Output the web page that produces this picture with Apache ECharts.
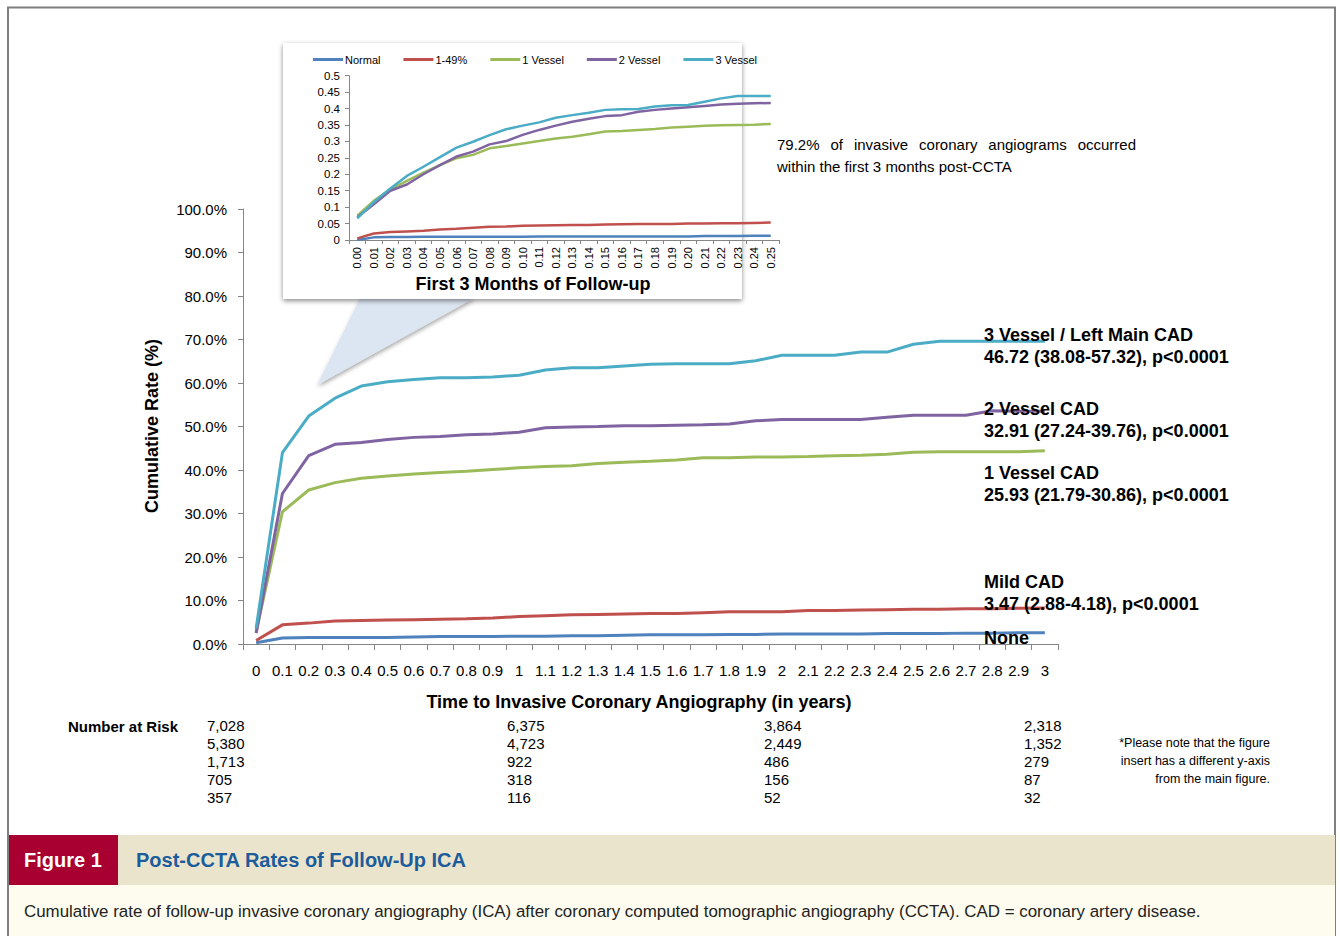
<!DOCTYPE html>
<html>
<head>
<meta charset="utf-8">
<title>Post-CCTA Rates of Follow-Up ICA</title>
<script src="https://cdn.jsdelivr.net/npm/echarts@6/dist/echarts.min.js"></script>
<style>
  html, body { margin: 0; padding: 0; background: #ffffff; }
  #chart { width: 1340px; height: 936px; }
</style>
</head>
<body>
<div id="chart"></div>
<script>
// ---- Main chart: follow-up time in years and cumulative rate (%) ----
const years = ['0','0.1','0.2','0.3','0.4','0.5','0.6','0.7','0.8','0.9','1','1.1','1.2','1.3','1.4','1.5',
               '1.6','1.7','1.8','1.9','2','2.1','2.2','2.3','2.4','2.5','2.6','2.7','2.8','2.9','3'];
const rateNone    = [0.3,1.4,1.5,1.5,1.5,1.5,1.6,1.7,1.7,1.7,1.8,1.8,1.9,1.9,2.0,2.1,2.1,2.1,2.2,2.2,2.3,2.3,2.3,2.3,2.4,2.4,2.4,2.5,2.5,2.6,2.6];
const rateMild    = [0.8,4.4,4.8,5.3,5.4,5.5,5.6,5.7,5.8,6.0,6.3,6.5,6.7,6.8,6.9,7.0,7.0,7.2,7.4,7.4,7.4,7.7,7.7,7.8,7.9,8.0,8.0,8.1,8.1,8.2,8.3];
const rateOneVes  = [2.8,30.4,35.4,37.1,38.1,38.6,39.1,39.4,39.7,40.1,40.5,40.8,41.0,41.5,41.8,42.0,42.3,42.8,42.8,43.0,43.0,43.1,43.3,43.4,43.6,44.1,44.2,44.2,44.2,44.2,44.4];
const rateTwoVes  = [2.5,34.6,43.3,45.9,46.3,47.0,47.5,47.7,48.1,48.3,48.7,49.7,49.9,50.0,50.2,50.2,50.3,50.4,50.6,51.3,51.6,51.6,51.6,51.6,52.1,52.6,52.6,52.6,53.6,53.5,53.5];
const rateThreeVes= [3.6,44.0,52.4,56.5,59.3,60.3,60.8,61.2,61.2,61.4,61.8,63.0,63.5,63.5,63.9,64.3,64.4,64.4,64.4,65.1,66.4,66.4,66.4,67.1,67.1,68.9,69.6,69.6,69.6,69.6,69.6];

// ---- Insert: first 3 months (proportion) ----
const months = ['0.00','0.01','0.02','0.03','0.04','0.05','0.06','0.07','0.08','0.09','0.10','0.11','0.12',
                '0.13','0.14','0.15','0.16','0.17','0.18','0.19','0.20','0.21','0.22','0.23','0.24','0.25'];
const earlyNormal = [0.000,0.008,0.009,0.009,0.010,0.010,0.010,0.010,0.010,0.010,0.010,0.011,0.011,0.011,0.011,0.011,0.011,0.011,0.011,0.011,0.011,0.012,0.012,0.012,0.013,0.013];
const earlyMild   = [0.005,0.020,0.024,0.026,0.028,0.032,0.034,0.037,0.040,0.041,0.043,0.044,0.045,0.046,0.046,0.047,0.048,0.049,0.049,0.049,0.050,0.050,0.051,0.051,0.052,0.053];
const earlyOne    = [0.074,0.119,0.154,0.180,0.205,0.228,0.249,0.259,0.279,0.286,0.294,0.301,0.309,0.314,0.322,0.330,0.332,0.335,0.338,0.342,0.345,0.348,0.349,0.350,0.351,0.353];
const earlyTwo    = [0.069,0.109,0.150,0.169,0.200,0.228,0.254,0.269,0.291,0.301,0.320,0.335,0.348,0.360,0.369,0.377,0.380,0.390,0.396,0.400,0.404,0.408,0.412,0.415,0.416,0.417];
const earlyThree  = [0.066,0.115,0.157,0.195,0.223,0.252,0.281,0.299,0.319,0.337,0.348,0.358,0.372,0.380,0.387,0.396,0.398,0.399,0.406,0.410,0.411,0.421,0.431,0.438,0.438,0.438];
const insetNames  = ['Normal','1-49%','1 Vessel','2 Vessel','3 Vessel'];

// ---- Number at risk table ----
const riskCol0 = ['7,028','5,380','1,713','705','357'];
const riskCol1 = ['6,375','4,723','922','318','116'];
const riskCol2 = ['3,864','2,449','486','156','52'];
const riskCol3 = ['2,318','1,352','279','87','32'];

// ---- Curve annotations (hazard ratios) ----
const annoLines = [
  ['3 Vessel / Left Main CAD', '46.72 (38.08-57.32), p<0.0001'],
  ['2 Vessel CAD', '32.91 (27.24-39.76), p<0.0001'],
  ['1 Vessel CAD', '25.93 (21.79-30.86), p<0.0001'],
  ['Mild CAD', '3.47 (2.88-4.18), p<0.0001'],
  ['None']
];
const noteLines = ['*Please note that the figure', 'insert has a different y-axis', 'from the main figure.'];
const insetNoteWords = ['79.2%','of','invasive','coronary','angiograms','occurred'];
const insetNote2 = 'within the first 3 months post-CCTA';

const colors = ['#4F81BD', '#C0504D', '#9BBB59', '#8064A2', '#4BACC6'];
const FONT = '"Liberation Sans", Arial, Helvetica, sans-serif';
const AXIS_GRAY = '#868686';

const chart = echarts.init(document.getElementById('chart'), null, { renderer: 'svg' });

function txt(text, x, y, size, opts) {
  opts = opts || {};
  return {
    type: 'text', z: opts.z != null ? opts.z : 50,
    rotation: opts.rotation || 0,
    x: x, y: y,
    style: {
      text: text,
      x: 0, y: 0,
      fill: opts.fill || '#000',
      font: (opts.bold ? 'bold ' : '') + size + 'px ' + FONT,
      align: opts.align || 'left',
      verticalAlign: 'middle'
    }
  };
}

// justified first line of the insert note
const measureCtx = document.createElement('canvas').getContext('2d');
measureCtx.font = '15px ' + FONT;
const noteLeft = 777, noteRight = 1136;
const wordWidths = insetNoteWords.map(w => measureCtx.measureText(w).width);
const wordGap = (noteRight - noteLeft - wordWidths.reduce((a, b) => a + b, 0)) / (insetNoteWords.length - 1);

const graphics = [];
// outer frame
graphics.push({ type: 'rect', z: 0, shape: { x: 8, y: 7.5, width: 1327, height: 935 },
  style: { fill: 'none', stroke: '#7f7f7f', lineWidth: 2 } });
// callout wedge and insert panel
graphics.push({ type: 'polygon', z: 1, shape: { points: [[360, 298], [474, 298], [317, 385]] },
  style: { fill: '#dce6f2', shadowBlur: 4, shadowOffsetX: 1, shadowOffsetY: 2, shadowColor: 'rgba(0,0,0,0.35)' } });
graphics.push({ type: 'rect', z: 1, shape: { x: 283, y: 43, width: 459, height: 256 },
  style: { fill: '#ffffff', shadowBlur: 5, shadowOffsetX: 0, shadowOffsetY: 2, shadowColor: 'rgba(0,0,0,0.45)' } });

// axis titles
graphics.push(txt('First 3 Months of Follow-up', 533, 284, 18, { bold: true, align: 'center' }));
graphics.push(txt('Time to Invasive Coronary Angiography (in years)', 639, 702, 18, { bold: true, align: 'center' }));
graphics.push(txt('Cumulative Rate (%)', 152, 426, 18, { bold: true, align: 'center', rotation: Math.PI / 2 }));

// insert note
let wx = noteLeft;
insetNoteWords.forEach((w, i) => {
  graphics.push(txt(w, wx, 144, 15));
  wx += wordWidths[i] + wordGap;
});
graphics.push(txt(insetNote2, 777, 166, 15));

// curve annotations
const annoY = [[335, 357], [409, 431], [473, 495], [582, 604], [638]];
annoLines.forEach((lines, i) => {
  lines.forEach((l, j) => graphics.push(txt(l, 984, annoY[i][j], 18, { bold: true, z: 60 })));
});

// number at risk
graphics.push(txt('Number at Risk', 68, 726, 15, { bold: true }));
const riskCols = [riskCol0, riskCol1, riskCol2, riskCol3];
const riskX = [207, 507, 764, 1024];
const rowY = [725, 743, 761, 779, 797];
riskCols.forEach((col, c) => col.forEach((v, r) => graphics.push(txt(v, riskX[c], rowY[r], 15))));
noteLines.forEach((l, i) => graphics.push(txt(l, 1270, 743 + 18 * i, 12.5, { align: 'right' })));

// figure footer
graphics.push({ type: 'rect', z: 2, shape: { x: 9, y: 835, width: 1326, height: 50 }, style: { fill: '#ebe4cd' } });
graphics.push({ type: 'rect', z: 2, shape: { x: 9, y: 835, width: 109, height: 50 }, style: { fill: '#a80030' } });
graphics.push({ type: 'rect', z: 2, shape: { x: 9, y: 885, width: 1326, height: 51 }, style: { fill: '#fefcee' } });
graphics.push(txt('Figure 1', 24, 860, 20, { bold: true, fill: '#ffffff' }));
graphics.push(txt('Post-CCTA Rates of Follow-Up ICA', 136, 860, 20, { bold: true, fill: '#1c5c9b' }));
graphics.push(txt('Cumulative rate of follow-up invasive coronary angiography (ICA) after coronary computed tomographic angiography (CCTA). CAD = coronary artery disease.', 24, 911, 16.9, { fill: '#222' }));

function lineSeries(name, data, gridIdx, color, width, z) {
  return {
    name: name, type: 'line', data: data,
    xAxisIndex: gridIdx, yAxisIndex: gridIdx,
    showSymbol: false, symbol: 'none', smooth: false, z: z,
    lineStyle: { color: color, width: width },
    itemStyle: { color: color },
    emphasis: { disabled: true },
    animation: false
  };
}

const option = {
  backgroundColor: '#ffffff',
  animation: false,
  textStyle: { fontFamily: FONT },
  legend: {
    data: insetNames,
    left: 313, top: 54, padding: 0,
    icon: 'rect', itemWidth: 30, itemHeight: 3, itemGap: 23,
    textStyle: { fontSize: 11, color: '#000', padding: [0, 0, 0, -3] },
    z: 10
  },
  grid: [
    { left: 243, top: 209, width: 815, height: 435, containLabel: false },
    { left: 349, top: 75.7, width: 430, height: 164.3, containLabel: false, z: 5 }
  ],
  xAxis: [
    {
      type: 'category', gridIndex: 0, data: years, boundaryGap: true,
      axisLine: { lineStyle: { color: AXIS_GRAY, width: 1 } },
      axisTick: { show: true, length: 6, alignWithLabel: false, lineStyle: { color: AXIS_GRAY } },
      axisLabel: { interval: 0, margin: 19, fontSize: 15, color: '#000' },
      splitLine: { show: false }
    },
    {
      type: 'category', gridIndex: 1, data: months, boundaryGap: true, z: 6,
      axisLine: { lineStyle: { color: AXIS_GRAY, width: 1 } },
      axisTick: { show: true, length: 4, alignWithLabel: false, lineStyle: { color: AXIS_GRAY } },
      axisLabel: { interval: 0, rotate: 90, margin: 7, fontSize: 11, color: '#000' },
      splitLine: { show: false }
    }
  ],
  yAxis: [
    {
      type: 'value', gridIndex: 0, min: 0, max: 100, interval: 10,
      axisLine: { show: true, lineStyle: { color: AXIS_GRAY, width: 1 } },
      axisTick: { show: true, length: 5, lineStyle: { color: AXIS_GRAY } },
      axisLabel: { margin: 16, fontSize: 15, color: '#000', formatter: v => v.toFixed(1) + '%' },
      splitLine: { show: false }
    },
    {
      type: 'value', gridIndex: 1, min: 0, max: 0.5, interval: 0.05, z: 6,
      axisLine: { show: true, lineStyle: { color: AXIS_GRAY, width: 1 } },
      axisTick: { show: true, length: 4, lineStyle: { color: AXIS_GRAY } },
      axisLabel: { margin: 9, fontSize: 11.5, color: '#000', formatter: v => String(+v.toFixed(2)) },
      splitLine: { show: false }
    }
  ],
  series: [
    lineSeries('None', rateNone, 0, colors[0], 3, 3),
    lineSeries('Mild CAD', rateMild, 0, colors[1], 3, 3),
    lineSeries('1 Vessel CAD', rateOneVes, 0, colors[2], 3, 3),
    lineSeries('2 Vessel CAD', rateTwoVes, 0, colors[3], 3, 3),
    lineSeries('3 Vessel / Left Main CAD', rateThreeVes, 0, colors[4], 3, 3),
    lineSeries(insetNames[0], earlyNormal, 1, colors[0], 2.5, 7),
    lineSeries(insetNames[1], earlyMild, 1, colors[1], 2.5, 7),
    lineSeries(insetNames[2], earlyOne, 1, colors[2], 2.5, 7),
    lineSeries(insetNames[3], earlyTwo, 1, colors[3], 2.5, 7),
    lineSeries(insetNames[4], earlyThree, 1, colors[4], 2.5, 7)
  ],
  graphic: { elements: graphics }
};

chart.setOption(option);
</script>
</body>
</html>
